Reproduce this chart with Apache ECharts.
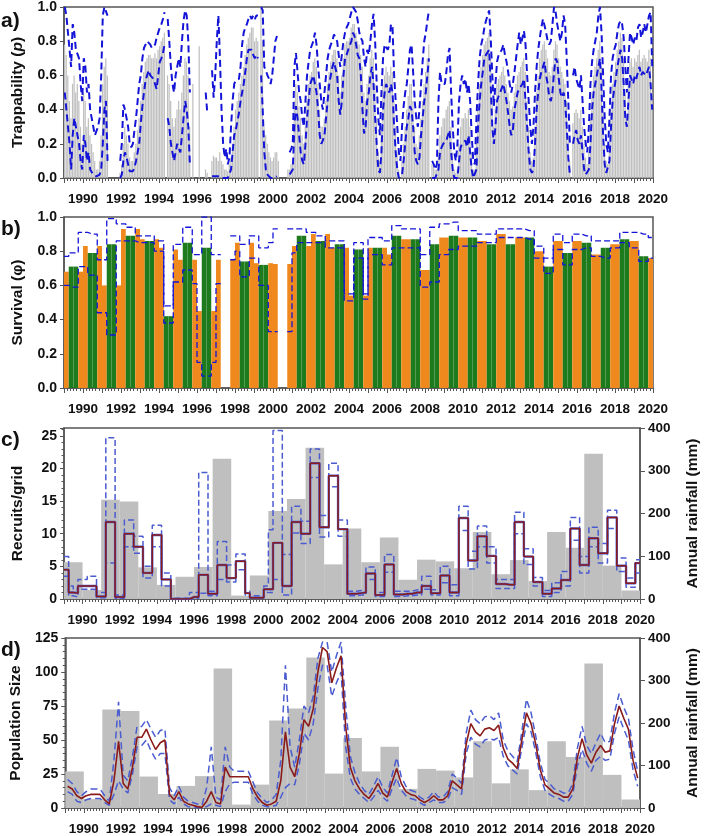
<!DOCTYPE html>
<html>
<head>
<meta charset="utf-8">
<script src="https://cdn.jsdelivr.net/npm/echarts@6/dist/echarts.min.js"></script>
<style>
  html, body { margin: 0; padding: 0; background: #fff; }
  #chart { width: 709px; height: 836px; }
</style>
</head>
<body>
<div id="chart"></div>
<script>
// time axis: 1989 .. 2020, monthly for panel a, quarterly for b-d
const START_YEAR = 1989
const END_YEAR = 2020

// a) trappability, monthly (one row per year, Jan..Dec)
const trappability = [
  0.78,0.72,0.6,0.45,0.35,0.55,0.6,0.5,0.55,0.45,0.3,0.2,
  0.5,0.45,0.3,0.35,0.25,0.2,0.15,0.1,0.05,0.05,0.1,0.25,
  0.55,0.65,0.7,0.6,null,null,null,null,null,null,null,0.03,
  0.08,0.2,0.3,0.25,0.2,0.12,0.1,0.1,0.15,0.2,0.28,0.35,
  0.45,0.55,0.62,0.68,0.7,0.72,0.72,0.7,0.7,0.73,0.7,0.75,
  0.77,0.8,0.82,0.85,null,0.6,0.55,0.45,0.35,0.3,0.35,0.4,
  0.45,0.4,0.5,0.6,0.7,0.68,0.6,0.3,null,0.55,null,null,
  null,0.77,null,null,null,0.05,0.03,null,null,0.1,0.13,0.12,
  0.12,0.1,0.15,0.1,0.08,0.05,0.05,0.04,0.08,0.12,0.2,0.3,
  0.4,0.45,0.5,0.55,0.6,0.65,0.72,0.78,0.82,0.85,0.88,0.88,
  0.8,0.82,0.8,null,1.0,0.8,0.3,0.25,0.2,0.15,0.12,0.1,
  0.12,0.15,0.15,0.1,null,null,null,null,null,0.05,0.05,0.08,
  0.1,0.45,0.55,0.5,0.42,0.35,0.25,0.2,0.3,0.45,0.55,0.6,
  0.62,0.68,0.7,0.65,0.55,0.4,0.3,0.3,0.35,0.45,0.55,0.62,
  0.68,0.72,0.75,0.75,0.7,0.6,0.5,0.6,0.7,0.78,0.8,0.8,
  0.82,0.88,0.9,0.9,0.85,0.8,0.78,0.72,0.65,0.5,0.45,0.55,
  0.6,0.7,0.75,0.7,0.55,0.35,0.15,0.1,0.3,0.55,0.6,0.65,
  0.62,0.6,0.65,0.62,0.45,0.3,0.15,0.05,0.0,0.1,0.2,0.3,
  0.4,0.48,0.55,0.55,0.45,0.3,0.2,0.18,0.25,0.35,0.45,0.55,
  0.62,0.7,0.78,null,0.08,0.08,0.05,0.05,0.15,0.25,0.3,0.35,
  0.35,0.4,0.42,0.45,0.3,0.15,0.05,0.03,0.05,0.2,0.3,0.35,
  0.35,0.38,0.35,0.4,0.3,0.15,0.05,0.05,0.2,0.4,0.55,0.65,
  0.72,0.78,0.8,0.82,0.85,0.7,0.45,0.3,0.4,0.55,0.58,0.6,
  0.62,0.65,0.6,0.55,0.5,0.45,0.4,0.42,0.5,0.55,0.6,0.62,
  0.65,0.68,0.7,0.62,0.45,0.3,0.15,0.1,0.12,0.3,0.5,0.6,
  0.7,0.75,0.78,0.8,0.75,0.7,0.62,0.6,0.65,0.75,0.8,0.78,
  0.7,0.65,0.62,0.58,0.55,0.45,0.25,0.1,null,0.32,0.38,0.4,
  0.38,0.35,0.4,0.3,0.2,0.12,0.08,0.15,0.35,0.5,0.6,0.65,
  0.7,0.75,0.8,0.65,0.4,0.2,0.1,0.08,0.2,0.4,0.55,0.62,
  0.68,0.75,0.8,0.85,0.82,0.7,0.5,0.35,0.55,0.68,0.7,0.65,
  0.7,0.68,0.72,0.75,0.68,0.7,0.72,0.7,0.68,0.75,0.7,0.5
]
const trapLower = [
  0.5,0.4,0.3,0.2,0.05,0.25,0.35,0.3,0.3,0.2,0.1,0.05,
  0.25,0.2,0.1,0.15,0.05,0.05,0.02,0.02,0.01,0.01,0.02,0.05,
  0.2,0.4,0.45,0.1,null,null,null,null,null,null,null,0.0,
  0.02,0.1,0.15,0.12,0.08,0.04,0.03,0.04,0.06,0.1,0.15,0.2,
  0.32,0.42,0.5,0.57,0.6,0.63,0.6,0.6,0.58,0.55,0.52,0.6,
  0.68,0.7,0.73,0.78,null,0.35,0.3,0.2,0.15,0.1,0.15,0.2,
  0.2,0.15,0.25,0.35,0.45,0.4,0.3,0.08,null,null,null,null,
  null,null,null,null,null,null,null,null,null,0.01,0.01,0.01,
  0.02,0.01,0.01,0.0,0.0,0.0,0.0,0.0,0.01,0.05,0.15,0.25,
  0.28,0.33,0.38,0.45,0.5,0.55,0.62,0.7,0.75,0.76,0.75,0.72,
  0.7,0.72,0.7,null,0.6,0.4,0.15,0.05,0.02,0.01,0.0,0.0,
  0.0,0.01,0.01,null,null,null,null,null,null,null,0.02,0.02,
  0.05,0.3,0.42,0.35,0.25,0.15,0.1,0.08,0.2,0.35,0.45,0.55,
  0.55,0.6,0.6,0.5,0.4,0.25,0.2,0.22,0.25,0.35,0.45,0.55,
  0.6,0.65,0.68,0.68,0.6,0.45,0.37,0.45,0.6,0.7,0.72,0.75,
  0.75,0.8,0.85,0.83,0.78,0.72,0.7,0.6,0.4,0.26,0.3,0.45,
  0.5,0.6,0.65,0.55,0.35,0.2,0.05,0.03,0.15,0.4,0.5,0.55,
  0.52,0.5,0.55,0.5,0.3,0.15,0.05,0.0,0.0,0.02,0.1,0.2,
  0.3,0.35,0.42,0.4,0.3,0.15,0.1,0.08,0.12,0.25,0.35,0.45,
  0.5,0.6,0.7,null,0.0,0.0,0.0,0.0,0.05,0.15,0.18,0.2,
  0.2,0.22,0.25,0.28,0.15,0.05,0.0,0.0,0.0,0.1,0.18,0.2,
  0.2,0.22,0.18,0.25,0.15,0.05,0.0,0.0,0.05,0.3,0.45,0.55,
  0.62,0.7,0.72,0.73,0.75,0.55,0.3,0.2,0.3,0.45,0.48,0.5,
  0.5,0.55,0.5,0.45,0.38,0.3,0.25,0.28,0.4,0.45,0.5,0.52,
  0.52,0.55,0.58,0.45,0.3,0.15,0.05,0.03,0.05,0.2,0.4,0.5,
  0.58,0.62,0.65,0.68,0.6,0.55,0.47,0.45,0.5,0.62,0.7,0.68,
  0.58,0.5,0.47,0.5,0.45,0.3,0.12,0.02,null,0.2,0.25,0.28,
  0.22,0.2,0.25,0.15,0.05,0.02,0.02,0.05,0.2,0.4,0.5,0.55,
  0.6,0.65,0.7,0.52,0.25,0.08,0.03,0.02,0.1,0.3,0.45,0.52,
  0.58,0.65,0.7,0.75,0.7,0.55,0.35,0.3,0.45,0.6,0.6,0.55,
  0.6,0.58,0.62,0.65,0.6,0.62,0.63,0.6,0.6,0.65,0.55,0.4
]
const trapUpper = [
  1.0,0.95,0.85,0.75,0.65,0.9,0.85,0.75,0.75,0.7,0.55,0.45,
  0.7,0.65,0.5,0.55,0.4,0.35,0.3,0.25,0.25,0.3,0.35,0.6,
  0.95,1.0,1.0,0.95,null,null,null,null,null,null,null,0.1,
  0.2,0.43,0.4,0.35,0.3,0.2,0.18,0.2,0.28,0.35,0.45,0.55,
  0.6,0.7,0.76,0.78,0.8,0.79,0.78,0.76,0.75,0.78,0.82,0.85,
  0.88,0.9,0.93,0.97,null,0.93,0.8,0.65,0.55,0.5,0.6,0.65,
  0.7,0.65,0.8,0.92,0.98,0.95,0.8,0.5,null,null,null,null,
  null,null,null,null,null,0.5,0.38,null,null,0.63,0.47,0.6,
  0.8,0.95,0.7,0.4,0.2,0.12,0.17,0.08,0.12,0.3,0.45,0.55,
  0.57,0.57,0.58,0.65,0.78,0.85,0.88,0.9,0.93,0.95,0.93,0.95,
  0.93,0.95,0.95,null,1.0,0.98,0.65,0.63,0.6,0.58,0.55,0.6,
  0.7,0.8,0.83,null,null,null,null,null,null,null,0.15,0.17,
  0.2,0.65,0.73,0.62,0.5,0.45,0.35,0.3,0.45,0.6,0.68,0.75,
  0.75,0.8,0.85,0.78,0.65,0.55,0.45,0.4,0.5,0.6,0.7,0.75,
  0.78,0.8,0.84,0.83,0.8,0.72,0.65,0.72,0.8,0.85,0.88,0.9,
  0.9,0.97,1.0,1.0,0.97,0.92,0.85,0.82,0.8,0.7,0.65,0.75,
  0.72,0.8,0.9,0.96,0.8,0.55,0.35,0.25,0.5,0.7,0.78,0.78,
  0.75,0.78,0.9,0.88,0.6,0.45,0.3,0.15,0.1,0.3,0.42,0.5,
  0.55,0.65,0.75,0.78,0.62,0.45,0.35,0.3,0.4,0.55,0.68,0.8,
  0.85,0.92,0.98,null,0.1,0.08,0.05,0.08,0.45,0.62,0.55,0.55,
  0.55,0.62,0.72,0.76,0.5,0.3,0.15,0.1,0.2,0.45,0.55,0.6,
  0.55,0.58,0.5,0.55,0.45,0.25,0.1,0.08,0.35,0.55,0.7,0.78,
  0.82,0.88,0.92,0.95,0.98,0.82,0.6,0.42,0.55,0.68,0.72,0.72,
  0.75,0.78,0.72,0.68,0.62,0.55,0.5,0.55,0.62,0.7,0.78,0.85,
  0.78,0.82,0.86,0.78,0.6,0.45,0.3,0.2,0.3,0.5,0.65,0.75,
  0.82,0.88,0.93,0.92,0.85,0.8,0.78,0.8,0.9,1.0,0.97,0.9,
  0.85,0.8,0.85,0.95,0.9,0.7,0.45,0.2,null,0.6,0.65,0.58,
  0.55,0.52,0.6,0.45,0.3,0.2,0.15,0.3,0.55,0.68,0.75,0.8,
  0.85,0.95,1.0,0.85,0.6,0.35,0.2,0.15,0.35,0.6,0.7,0.75,
  0.78,0.85,0.9,0.92,0.9,0.82,0.65,0.5,0.7,0.85,0.82,0.78,
  0.82,0.8,0.88,0.9,0.82,0.85,0.9,0.85,0.85,0.95,0.97,0.65
]

// b) survival, quarterly (Q1..Q4 per year); Q2+Q3 = wet season (green)
const survival = [
  .68,.71,.71,.68,  .83,.79,.79,.83,  .60,.84,.84,.60,  .93,.89,.89,.93,
  .87,.86,.86,.87,  .82,.42,.42,.81,  .75,.85,.85,.75,  .45,.82,.82,.45,
  .75,null,null,.75, .85,.74,.74,.85, .73,.72,.72,.73, .725,null,null,.725,
  .83,.89,.89,.83,  .90,.86,.86,.90,  .82,.84,.84,.82,  .54,.81,.81,.54,
  .82,.82,.82,.82,  .78,.89,.89,.87,  .87,.87,.87,.69,  .69,.84,.84,.88,
  .88,.89,.89,.88,  .88,.88,.88,.86,  .86,.84,.84,.90,  .90,.84,.84,.88,
  .88,.88,.88,.80,  .80,.71,.71,.86,  .86,.79,.79,.86,  .86,.85,.85,.78,
  .78,.82,.82,.84,  .84,.87,.87,.86,  .86,.77,.77,.76
]
const survLower = [
  .60,.59,.59,.71,  .71,.66,.66,.44,  .44,.31,.31,.86,  .86,.86,.86,.85,
  .85,.85,.85,.80,  .80,.38,.38,.62,  .62,.69,.69,.61,  .15,.07,.07,.15,
  .61,null,null,.75, .80,.65,.65,.76, .76,.60,.60,.33, .33,null,null,.33,
  .79,.85,.85,.85,  .85,.85,.85,.82,  .82,.82,.82,.51,  .51,.76,.76,.52,
  .78,.78,.78,.72,  .72,.82,.82,.82,  .82,.82,.82,.59,  .59,.62,.62,.78,
  .78,.81,.81,.83,  .83,.83,.83,.85,  .85,.85,.85,.88,  .88,.88,.88,.88,
  .88,.87,.87,.76,  .76,.67,.67,.81,  .81,.72,.72,.81,  .81,.82,.82,.77,
  .77,.76,.76,.82,  .82,.85,.85,.82,  .82,.74,.74,.76
]
const survUpper = [
  .77,.79,.79,.91,  .91,.90,.90,.75,  .75,.99,.99,.96,  .96,.94,.94,.89,
  .89,.89,.89,.86,  .86,.48,.48,.84,  .84,.94,.94,.78,  .78,1.0,1.0,.78,
  .78,null,null,.89, .89,.84,.84,.89, .89,.82,.82,.85, .93,null,null,.93,
  .93,.93,.93,.91,  .91,.89,.89,.86,  .86,.86,.86,.55,  .55,.85,.85,.55,
  .88,.88,.88,.86,  .86,.95,.95,.93,  .93,.93,.93,.78,  .78,.94,.94,.96,
  .96,.97,.97,.92,  .92,.92,.92,.90,  .90,.90,.90,.93,  .93,.93,.93,.93,
  .93,.92,.92,.83,  .83,.76,.76,.90,  .90,.85,.85,.90,  .90,.89,.89,.86,
  .86,.86,.86,.86,  .86,.91,.91,.91,  .91,.90,.90,.88
]

// c) recruits per grid, quarterly
const recruits = [
  4.5,1.0,0.9,2.0,  2.0,2.0,2.0,0.4,  0.4,11.8,11.8,0.3,  0.3,10.0,10.0,8.0,
  8.0,4.0,4.0,9.8,  9.8,3.0,3.0,0.0,  0.0,0.0,0.0,0.3,  0.3,3.7,3.7,0.8,
  0.8,5.2,5.2,3.2,  3.2,5.8,5.8,0.9,  0.2,0.2,0.2,1.5,  1.5,8.6,8.6,2.0,
  2.0,11.8,11.8,10.0, 10.0,20.8,20.8,11.0, 11.0,18.9,18.9,10.7, 10.7,0.8,0.8,0.9,
  1.0,3.9,3.9,0.6,  0.6,5.3,5.3,0.7,  0.7,0.8,0.8,1.0,  1.0,2.0,2.0,0.9,
  0.9,3.6,3.6,1.0,  1.0,12.4,12.4,5.9,  5.9,9.6,9.6,6.6,  6.6,2.3,2.3,2.2,
  2.2,11.8,11.8,6.5,  6.5,2.6,2.6,0.8,  0.8,1.6,1.6,2.9,  2.9,10.8,10.8,5.2,
  5.2,9.3,9.3,7.0,  7.0,12.5,12.5,5.1,  5.1,2.4,2.4,5.5
]
const recruitsLower = [
  3.5,0.5,0.3,1.5,  1.5,1.5,1.5,0.2,  0.2,5.5,5.5,0.1,  0.1,8.0,8.0,7.0,
  7.0,3.2,3.2,8.0,  8.0,2.0,2.0,0.0,  0.0,0.0,0.0,0.1,  0.1,0.9,0.9,0.5,
  0.5,3.0,3.0,2.6,  2.6,4.5,4.5,0.6,  0.1,0.1,0.1,1.0,  1.0,3.0,3.0,0.6,
  0.6,10.1,10.1,8.5, 8.5,18.6,18.6,9.5, 9.5,17.2,17.2,9.6, 9.6,0.5,0.5,0.6,
  0.6,3.0,3.0,0.4,  0.4,4.1,4.1,0.4,  0.4,0.5,0.5,0.6,  0.6,1.5,1.5,0.6,
  0.6,2.5,2.5,0.5,  0.5,10.5,10.5,4.6,  4.6,8.0,8.0,5.5,  5.5,1.6,1.6,1.6,
  1.6,10.0,10.0,5.3,  5.3,2.0,2.0,0.4,  0.4,1.0,1.0,2.0,  2.0,9.0,9.0,4.0,
  4.0,8.0,8.0,5.5,  5.5,10.8,10.8,4.2,  4.2,1.8,1.8,4.0
]
const recruitsUpper = [
  6.5,2.0,1.5,3.0,  3.0,3.5,3.5,1.0,  1.0,24.7,24.7,0.6,  0.6,12.1,12.1,9.6,
  9.6,5.0,5.0,11.3,  11.3,4.0,4.0,0.1,  0.1,0.1,0.1,1.0,  1.0,19.4,19.4,1.2,
  1.2,8.8,8.8,5.2,  5.2,6.9,6.9,1.2,  0.5,0.5,0.5,2.0,  10.6,25.8,25.8,6.8,
  6.8,14.2,14.2,11.9, 11.9,23.0,23.0,12.8, 12.8,20.8,20.8,12.1, 12.1,1.2,1.2,1.3,
  1.3,4.9,4.9,1.0,  1.0,6.8,6.8,1.2,  1.2,1.2,1.2,1.4,  1.4,3.5,3.5,1.4,
  1.4,5.0,5.0,2.2,  2.2,14.2,14.2,7.3,  7.3,11.2,11.2,8.0,  8.0,3.0,3.0,3.0,
  3.0,13.3,13.3,7.7,  7.7,3.3,3.3,1.3,  1.3,2.5,2.5,4.2,  4.2,12.5,12.5,6.5,
  6.5,11.0,11.0,8.5,  8.5,13.6,13.6,6.3,  6.3,3.2,3.2,6.0
]

// d) population size, quarterly
const population = [
  16,14,9,7,  9,10,10,10,  6,3,20,49,  18,14,30,52,
  52,58,50,43,  48,50,10,6,  12,5,3,2,  1,0.5,5,12,
  4,3,30,23,  23,23,23,23,  14,8,4,2,  3,5,20,56,
  30,23,40,65,  60,73,100,118,  115,92,103,112,  60,30,20,14,
  10,7,12,18,  11,8,19,29,  18,12,10,9,  6,4,6,9,
  6,6,9,20,  17,14,47,62,  56,53,58,59,  57,61,44,36,
  33,29,50,70,  62,47,28,17,  14,11,10,8,  8,14,37,51,
  39,33,41,46,  41,42,62,75,  66,58,35,22
]
const popLower = [
  12,10,5,4,  6,7,7,7,  4,2,10,20,  14,11,25,45,
  46,50,42,36,  40,40,6,3,  8,3,1,0.5,  0.2,0.1,1,3,
  2,1,12,18,  19,19,19,19,  10,5,2,1,  1,2,8,15,
  18,17,32,55,  50,62,88,105,  105,82,92,100,  45,22,14,10,
  7,4,8,13,  8,5,14,22,  13,9,7,6,  4,2,4,6,
  4,4,6,15,  13,10,40,52,  47,45,50,51,  50,52,38,31,
  28,25,44,62,  56,41,23,13,  10,8,7,5,  5,10,31,43,
  33,27,35,38,  35,36,55,67,  58,50,28,16
]
const popUpper = [
  21,18,12,9,  12,14,14,14,  9,5,35,78,  24,20,38,60,
  60,65,58,52,  57,58,15,9,  16,8,5,4,  3,2,15,45,
  8,6,45,30,  27,27,27,27,  19,11,7,4,  6,10,35,105,
  45,30,50,75,  70,82,110,122,  122,100,112,122,  75,38,26,18,
  13,10,16,23,  15,11,24,37,  23,16,13,12,  8,6,8,12,
  8,8,12,25,  22,18,55,72,  65,62,67,68,  65,70,50,42,
  38,34,56,80,  70,53,33,21,  18,14,13,11,  11,18,44,60,
  46,40,48,55,  48,49,70,84,  74,66,43,27
]

// annual rainfall (mm), 1989..2019
const rainfall = [
  86, 21, 232, 228, 74, 33, 52, 75, 328, 8, 55, 206, 234, 354, 81, 165,
  86, 144, 45, 92, 88, 72, 157, 58, 91, 42, 157, 120, 340, 78, 20
]

const FONT = '"Liberation Sans", Arial, sans-serif'
const AXIS_COLOR = '#555'
const GRAY = '#bfbfbf'
const ORANGE = '#f0891d'
const GREEN = '#1d7a1d'
const BLUE = '#1414d8'
const BLUE_SOFT = '#4a5cd0'
const RED = '#8b1a1a'

const chart = echarts.init(document.getElementById('chart'))

// ---- helpers to turn the arrays into series data ----
const monthBars = arr => arr.map((v, i) => [START_YEAR + i / 12, START_YEAR + (i + 1) / 12, v])
const monthLine = arr => arr.map((v, i) => [START_YEAR + (i + 0.5) / 12, v])
const quarterMid = arr => arr.map((v, i) => [START_YEAR + (i + 0.5) / 4, v])
const yearBars = arr => arr.map((v, i) => [START_YEAR + i, START_YEAR + i + 1, v])

// step function: one flat segment per quarter
const quarterSteps = arr => {
  const out = []
  arr.forEach((v, i) => {
    const x0 = START_YEAR + i / 4
    if (v == null) { out.push([x0, null]); return }
    out.push([x0, v], [x0 + 0.25, v])
  })
  return out
}

const survivalBars = survival.map((v, i) => {
  const q = i % 4
  return {
    value: [START_YEAR + i / 4, START_YEAR + (i + 1) / 4, v],
    itemStyle: { color: (q === 1 || q === 2) ? GREEN : ORANGE }
  }
})

const rectRender = gap => (params, api) => {
  const v = api.value(2)
  if (v == null || isNaN(v)) return null
  const a = api.coord([api.value(0), v])
  const b = api.coord([api.value(1), 0])
  return {
    type: 'rect',
    shape: { x: a[0], y: a[1], width: Math.max(b[0] - a[0] - gap, 0.6), height: b[1] - a[1] },
    style: { fill: api.visual('color') }
  }
}

const grids = [
  { left: 64, right: 56, top: 7, height: 171 },
  { left: 64, right: 56, top: 217, height: 171 },
  { left: 64, right: 56, top: 428, height: 171 },
  { left: 64, right: 56, top: 638, height: 171 }
].map(g => Object.assign(g, { show: true, borderColor: AXIS_COLOR, borderWidth: 1.5, backgroundColor: 'transparent' }))

const labelStyle = { fontFamily: FONT, fontWeight: 'bold', color: '#111' }

const xAxisFor = i => ({
  type: 'value', gridIndex: i, min: START_YEAR, max: END_YEAR, interval: 1,
  axisLine: { lineStyle: { color: AXIS_COLOR, width: 1.5 } },
  axisTick: { length: 5, lineStyle: { color: AXIS_COLOR } },
  minorTick: { show: true, splitNumber: 6, length: 3, lineStyle: { color: AXIS_COLOR } },
  splitLine: { show: false },
  axisLabel: Object.assign({ margin: 14, fontSize: 13.5, formatter: v => (v % 2 === 0 ? String(v) : '') }, labelStyle)
})

const yLeft = (i, opts) => Object.assign({
  type: 'value', gridIndex: i, position: 'left',
  nameLocation: 'middle', nameRotate: 90, nameGap: 38,
  nameTextStyle: { fontFamily: FONT, fontWeight: 'bold', fontSize: 15.5, color: '#111' },
  axisLine: { show: true, lineStyle: { color: AXIS_COLOR, width: 1.5 } },
  axisTick: { show: true, length: 4, lineStyle: { color: AXIS_COLOR } },
  splitLine: { show: false },
  axisLabel: Object.assign({ margin: 7, fontSize: 14 }, labelStyle)
}, opts)

const yRight = i => ({
  type: 'value', gridIndex: i, position: 'right', min: 0, max: 400, interval: 100,
  name: 'Annual rainfall (mm)', nameLocation: 'middle', nameRotate: 90, nameGap: 45,
  nameTextStyle: { fontFamily: FONT, fontWeight: 'bold', fontSize: 15.5, color: '#111' },
  axisLine: { show: true, lineStyle: { color: AXIS_COLOR, width: 1.5 } },
  axisTick: { show: true, length: 5, lineStyle: { color: AXIS_COLOR } },
  splitLine: { show: false },
  axisLabel: Object.assign({ margin: 8, fontSize: 13.5 }, labelStyle)
})

const dashed = (name, data, xi, yi, color, width, dash) => ({
  name, type: 'line', data, xAxisIndex: xi, yAxisIndex: yi,
  symbol: 'none', connectNulls: false, z: 3,
  lineStyle: { color, width, type: dash }
})

const option = {
  animation: false,
  backgroundColor: '#fff',
  grid: grids,
  xAxis: [0, 1, 2, 3].map(xAxisFor),
  yAxis: [
    yLeft(0, {
      min: 0, max: 1, interval: 0.2, name: 'Trappability ({i|p})',
      nameTextStyle: { fontFamily: FONT, fontWeight: 'bold', fontSize: 15.5, color: '#111',
        rich: { i: { fontFamily: FONT, fontWeight: 'bold', fontStyle: 'italic', fontSize: 15.5, color: '#111' } } },
      axisLabel: Object.assign({ margin: 7, fontSize: 14, formatter: v => v.toFixed(1) }, labelStyle)
    }),
    yLeft(1, {
      min: 0, max: 1, interval: 0.2, name: 'Survival (φ)',
      axisLabel: Object.assign({ margin: 7, fontSize: 14, formatter: v => v.toFixed(1) }, labelStyle)
    }),
    yLeft(2, {
      min: 0, max: 26.2, interval: 5, name: 'Recruits/grid',
      minorTick: { show: true, splitNumber: 5, length: 2.5, lineStyle: { color: AXIS_COLOR } },
      axisLabel: Object.assign({ margin: 7, fontSize: 14, formatter: v => (v % 5 === 0 ? String(v) : '') }, labelStyle)
    }),
    yRight(2),
    yLeft(3, {
      min: 0, max: 125, interval: 25, name: 'Population Size',
      minorTick: { show: true, splitNumber: 5, length: 2.5, lineStyle: { color: AXIS_COLOR } }
    }),
    yRight(3)
  ],
  graphic: [
    ['a)', 11], ['b)', 219], ['c)', 430], ['d)', 640]
  ].map(([t, y]) => ({
    type: 'text', left: 1, top: y,
    style: { text: t, font: 'bold 21px ' + FONT, fill: '#111' }
  })),
  series: [
    // a) trappability
    { type: 'custom', xAxisIndex: 0, yAxisIndex: 0, data: monthBars(trappability),
      encode: { x: [0, 1], y: 2 }, renderItem: rectRender(0.35), itemStyle: { color: GRAY }, z: 1 },
    dashed('p lower', monthLine(trapLower), 0, 0, BLUE, 2, [7, 4]),
    dashed('p upper', monthLine(trapUpper), 0, 0, BLUE, 2, [7, 4]),

    // b) survival
    { type: 'custom', xAxisIndex: 1, yAxisIndex: 1, data: survivalBars,
      encode: { x: [0, 1], y: 2 }, renderItem: rectRender(0), z: 1 },
    dashed('phi lower', quarterSteps(survLower), 1, 1, BLUE, 1.3, [6, 3]),
    dashed('phi upper', quarterSteps(survUpper), 1, 1, BLUE, 1.3, [6, 3]),

    // c) recruits + rainfall
    { type: 'custom', xAxisIndex: 2, yAxisIndex: 3, data: yearBars(rainfall),
      encode: { x: [0, 1], y: 2 }, renderItem: rectRender(0), itemStyle: { color: GRAY }, z: 1 },
    dashed('rec lower', quarterSteps(recruitsLower), 2, 2, BLUE_SOFT, 1.5, [6, 3]),
    dashed('rec upper', quarterSteps(recruitsUpper), 2, 2, BLUE_SOFT, 1.5, [6, 3]),
    { type: 'line', xAxisIndex: 2, yAxisIndex: 2, data: quarterSteps(recruits), symbol: 'none', z: 4,
      lineStyle: { color: BLUE_SOFT, width: 2.4 } },
    { type: 'line', xAxisIndex: 2, yAxisIndex: 2, data: quarterSteps(recruits), symbol: 'none', z: 5,
      lineStyle: { color: RED, width: 1.5 } },

    // d) population + rainfall
    { type: 'custom', xAxisIndex: 3, yAxisIndex: 5, data: yearBars(rainfall),
      encode: { x: [0, 1], y: 2 }, renderItem: rectRender(0), itemStyle: { color: GRAY }, z: 1 },
    dashed('pop lower', quarterMid(popLower), 3, 4, BLUE_SOFT, 1.5, [7, 4]),
    dashed('pop upper', quarterMid(popUpper), 3, 4, BLUE_SOFT, 1.5, [7, 4]),
    { type: 'line', xAxisIndex: 3, yAxisIndex: 4, data: quarterMid(population), symbol: 'none', z: 5,
      lineStyle: { color: RED, width: 1.6 } }
  ]
}

chart.setOption(option)
</script>
</body>
</html>
